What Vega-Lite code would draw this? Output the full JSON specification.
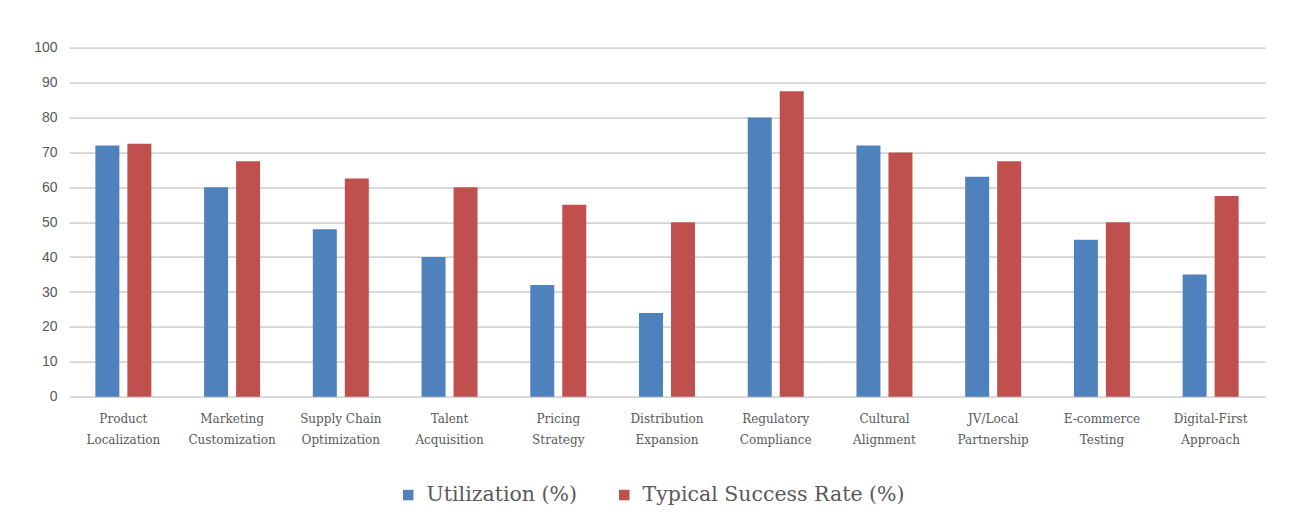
{
  "$schema": "https://vega.github.io/schema/vega-lite/v6.json",
  "width": 1196,
  "height": 349,
  "autosize": {"type": "none"},
  "padding": {"left": 69, "top": 47.7, "right": 25, "bottom": 132.3},
  "background": "white",
  "config": {"view": {"stroke": null}},
  "data": {
    "values": [
      {"strategy": "Product Localization", "series": "Utilization (%)", "value": 72},
      {"strategy": "Product Localization", "series": "Typical Success Rate (%)", "value": 72.5},
      {"strategy": "Marketing Customization", "series": "Utilization (%)", "value": 60},
      {"strategy": "Marketing Customization", "series": "Typical Success Rate (%)", "value": 67.5},
      {"strategy": "Supply Chain Optimization", "series": "Utilization (%)", "value": 48},
      {"strategy": "Supply Chain Optimization", "series": "Typical Success Rate (%)", "value": 62.5},
      {"strategy": "Talent Acquisition", "series": "Utilization (%)", "value": 40},
      {"strategy": "Talent Acquisition", "series": "Typical Success Rate (%)", "value": 60},
      {"strategy": "Pricing Strategy", "series": "Utilization (%)", "value": 32},
      {"strategy": "Pricing Strategy", "series": "Typical Success Rate (%)", "value": 55},
      {"strategy": "Distribution Expansion", "series": "Utilization (%)", "value": 24},
      {"strategy": "Distribution Expansion", "series": "Typical Success Rate (%)", "value": 50},
      {"strategy": "Regulatory Compliance", "series": "Utilization (%)", "value": 80},
      {"strategy": "Regulatory Compliance", "series": "Typical Success Rate (%)", "value": 87.5},
      {"strategy": "Cultural Alignment", "series": "Utilization (%)", "value": 72},
      {"strategy": "Cultural Alignment", "series": "Typical Success Rate (%)", "value": 70},
      {"strategy": "JV/Local Partnership", "series": "Utilization (%)", "value": 63},
      {"strategy": "JV/Local Partnership", "series": "Typical Success Rate (%)", "value": 67.5},
      {"strategy": "E-commerce Testing", "series": "Utilization (%)", "value": 45},
      {"strategy": "E-commerce Testing", "series": "Typical Success Rate (%)", "value": 50},
      {"strategy": "Digital-First Approach", "series": "Utilization (%)", "value": 35},
      {"strategy": "Digital-First Approach", "series": "Typical Success Rate (%)", "value": 57.5}
    ]
  },
  "mark": {"type": "bar"},
  "encoding": {
    "x": {
      "field": "strategy",
      "type": "nominal",
      "sort": null,
      "scale": {"paddingInner": 0.485, "paddingOuter": 0.2425},
      "axis": {
        "title": null,
        "domain": false,
        "ticks": false,
        "labelAngle": 0,
        "labelPadding": 17,
        "labelFont": "DejaVu Serif",
        "labelFontSize": 12,
        "labelColor": "#595959",
        "labelLineHeight": 21,
        "labelLimit": 200,
        "labelExpr": "[slice(datum.label, 0, lastindexof(datum.label, ' ')), slice(datum.label, lastindexof(datum.label, ' ') + 1)]"
      }
    },
    "xOffset": {
      "field": "series",
      "type": "nominal",
      "scale": {"domain": ["Utilization (%)", "Typical Success Rate (%)"], "paddingInner": 0.25, "paddingOuter": 0}
    },
    "y": {
      "field": "value",
      "type": "quantitative",
      "scale": {"domain": [0, 100], "nice": false},
      "axis": {
        "title": null,
        "values": [0, 10, 20, 30, 40, 50, 60, 70, 80, 90, 100],
        "domain": false,
        "ticks": false,
        "grid": true,
        "gridColor": "#d4d4d4",
        "gridWidth": 1.7,
        "labelPadding": 12,
        "labelFont": "Liberation Sans",
        "labelFontSize": 14,
        "labelColor": "#595959"
      }
    },
    "color": {
      "field": "series",
      "type": "nominal",
      "scale": {"domain": ["Utilization (%)", "Typical Success Rate (%)"], "range": ["#4F81BD", "#C0504D"]},
      "legend": {
        "title": null,
        "orient": "none",
        "legendX": 329,
        "legendY": 437,
        "direction": "horizontal",
        "symbolType": "square",
        "symbolSize": 110,
        "symbolStrokeWidth": 0,
        "labelFont": "DejaVu Serif",
        "labelFontSize": 20.5,
        "labelColor": "#595959",
        "labelOffset": 8,
        "labelLimit": 0,
        "columnPadding": 36
      }
    }
  }
}
